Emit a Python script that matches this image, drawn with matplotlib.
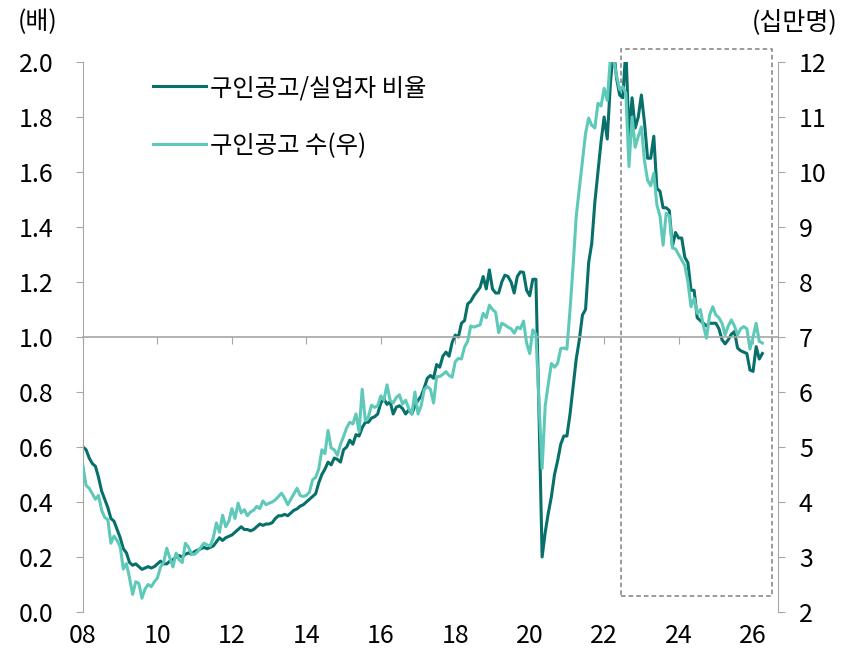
import numpy as np
import matplotlib
matplotlib.use("Agg")
import matplotlib.pyplot as plt
from matplotlib.patches import Rectangle

plt.rcParams['font.family'] = ['Noto Sans CJK KR', 'DejaVu Sans']

# monthly data, Jan 2008 onwards
ratio = [
    0.60, 0.59, 0.56, 0.54, 0.53, 0.49, 0.44, 0.41, 0.38, 0.34, 0.33, 0.30,  # 2008
    0.27, 0.23, 0.215, 0.18, 0.17, 0.175, 0.165, 0.155, 0.16, 0.165, 0.16, 0.165,  # 2009
    0.175, 0.185, 0.175, 0.175, 0.185, 0.19, 0.20, 0.205, 0.20, 0.21, 0.215, 0.21,  # 2010
    0.22, 0.225, 0.23, 0.235, 0.23, 0.235, 0.24, 0.255, 0.27, 0.26, 0.27, 0.275,  # 2011
    0.28, 0.29, 0.30, 0.31, 0.30, 0.30, 0.295, 0.30, 0.31, 0.32, 0.315, 0.32,  # 2012
    0.32, 0.325, 0.34, 0.35, 0.35, 0.355, 0.35, 0.36, 0.37, 0.375, 0.385, 0.39,  # 2013
    0.40, 0.41, 0.42, 0.43, 0.47, 0.50, 0.52, 0.545, 0.535, 0.56, 0.555, 0.545,  # 2014
    0.59, 0.60, 0.625, 0.61, 0.645, 0.64, 0.67, 0.69, 0.69, 0.705, 0.71, 0.72,  # 2015
    0.76, 0.775, 0.755, 0.765, 0.72, 0.745, 0.75, 0.74, 0.72, 0.735, 0.72, 0.75,  # 2016
    0.77, 0.785, 0.815, 0.85, 0.86, 0.85, 0.90, 0.89, 0.93, 0.945, 0.93, 0.98,  # 2017
    1.007, 1.0, 1.05, 1.06, 1.12, 1.13, 1.15, 1.165, 1.18, 1.22, 1.175, 1.244,  # 2018
    1.175, 1.16, 1.16, 1.20, 1.225, 1.22, 1.20, 1.16, 1.22, 1.237, 1.235, 1.17,  # 2019
    1.15, 1.21, 1.21, 0.72, 0.20, 0.29, 0.36, 0.42, 0.50, 0.55, 0.61, 0.64,  # 2020
    0.64, 0.72, 0.82, 0.92, 0.99, 1.08, 1.10, 1.27, 1.34, 1.49, 1.60, 1.71,  # 2021
    1.80, 1.72, 1.92, 2.05, 1.94, 1.88, 1.87, 2.05, 1.73, 1.87, 1.76, 1.80,  # 2022
    1.88, 1.78, 1.65, 1.65, 1.73, 1.54, 1.53, 1.47, 1.47, 1.46, 1.33, 1.38,  # 2023
    1.36, 1.36, 1.29, 1.27, 1.17, 1.17, 1.07, 1.06, 1.05, 1.04, 1.05, 1.05,  # 2024
    1.05, 1.03, 0.99, 0.975, 0.99, 1.01, 1.02, 0.96, 0.95, 0.945, 0.94, 0.88,  # 2025
    0.875, 0.965, 0.92, 0.94,  # 2026
]

openings = [
    4.65, 4.30, 4.25, 4.15, 4.05, 4.12, 3.85, 3.72, 3.68, 3.25, 3.38, 3.30,
    3.18, 2.78, 2.88, 2.62, 2.32, 2.55, 2.52, 2.25, 2.42, 2.50, 2.46, 2.55,
    2.62, 2.82, 2.90, 3.16, 2.98, 2.82, 3.07, 2.95, 2.90, 3.25, 3.18, 3.05,
    3.05, 3.10, 3.18, 3.25, 3.22, 3.20, 3.35, 3.62, 3.45, 3.76, 3.55, 3.65,
    3.88, 3.70, 3.98, 3.80, 3.86, 3.75, 3.82, 3.85, 3.92, 3.88, 4.02, 3.95,
    3.98, 4.00, 4.04, 4.10, 4.16, 4.07, 3.95, 4.05, 4.15, 4.25, 4.12, 4.10,
    4.12, 4.18, 4.40, 4.45, 4.60, 4.95, 4.88, 5.30, 4.98, 4.95, 4.85, 5.05,
    5.19, 5.35, 5.45, 5.42, 5.60, 5.28, 6.05, 5.48, 5.55, 5.76, 5.72, 5.75,
    5.93, 5.85, 6.13, 5.85, 5.80, 5.90, 5.95, 5.78, 5.85, 5.70, 5.60, 6.00,
    5.60, 5.75, 6.04, 6.10, 6.05, 5.80, 6.28, 6.28, 6.32, 6.37, 6.30, 6.27,
    6.55, 6.61, 6.60, 6.82, 6.92, 7.20, 7.18, 7.20, 7.22, 7.43, 7.35, 7.58,
    7.50, 7.45, 7.08, 7.25, 7.22, 7.18, 7.15, 7.07, 7.18, 7.15, 7.29, 6.89,
    6.70, 7.13, 7.05, 5.80, 4.61, 5.75, 6.15, 6.52, 6.45, 6.52, 6.79, 6.80,
    6.78, 7.50, 8.30, 9.20, 9.70, 10.20, 10.70, 10.98, 10.85, 10.80, 11.25, 11.20,
    11.52, 11.30, 12.05, 12.05, 11.75, 11.50, 11.55, 11.43, 10.10, 11.00, 10.45, 10.65,
    10.82, 10.20, 9.85, 9.75, 9.98, 9.40, 9.20, 8.67, 9.25, 9.20, 8.62, 8.60,
    8.50, 8.40, 8.30, 8.00, 7.55, 7.70, 7.43, 7.50, 7.20, 6.98, 7.40, 7.55,
    7.40, 7.35, 7.25, 7.04, 7.20, 7.31, 7.20, 7.04, 7.15, 7.19, 7.15, 6.78,
    7.00, 7.25, 6.92, 6.89,
]

year_ticks = list(range(2008, 2027, 2))
year_labels = ['08', '10', '12', '14', '16', '18', '20', '22', '24', '26']
ratio_label = '구인공고/실업자 비율'
openings_label = '구인공고 수(우)'

dark = '#07706a'
light = '#5fc9b9'
grey = '#a6a6a6'

months = 2008 + np.arange(len(ratio)) / 12

fig = plt.figure(figsize=(8.56, 6.52), dpi=100)
ax = fig.add_axes([83 / 856, 40 / 652, 695 / 856, 550 / 652])
ax2 = ax.twinx()

ax.plot(months, ratio, color=dark, lw=2.2, label=ratio_label)
ax2.plot(months, openings, color=light, lw=2.2, label=openings_label)

ax.set_xlim(2008, 2026.67)
ax.set_ylim(0, 2.0)
ax2.set_ylim(2, 12)

ax.set_yticks(np.arange(0, 2.01, 0.2))
ax.set_yticklabels([f'{v:.1f}' for v in np.arange(0, 2.01, 0.2)])
ax2.set_yticks(range(2, 13))

for s in ['top', 'right']:
    ax.spines[s].set_visible(False)
for s in ['top', 'bottom', 'left']:
    ax2.spines[s].set_visible(False)
ax.spines['left'].set_color(grey)
ax2.spines['right'].set_color(grey)
ax.spines['bottom'].set_position(('data', 1.0))
ax.spines['bottom'].set_color(grey)
ax.spines['bottom'].set_linewidth(1.2)

ax.set_xticks(year_ticks)
ax.tick_params(axis='x', direction='out', length=5, color=grey, labelbottom=False)
ax.tick_params(axis='y', direction='out', length=5, color=grey, labelsize=18, pad=16)
ax2.tick_params(axis='y', direction='out', length=5, color=grey, labelsize=18, pad=10)

sec = ax.secondary_xaxis(0)
sec.set_xticks(year_ticks)
sec.set_xticklabels(year_labels)
sec.tick_params(length=0, labelsize=18, pad=8)
sec.spines['bottom'].set_visible(False)

box = Rectangle((2022.44, 0.058), 4.08, 1.99, fill=False, ls=(0, (3, 2)),
                ec='#808080', lw=1.1, clip_on=False)
ax.add_patch(box)

fig.text(38 / 856, 1 - 22 / 652, '(배)', fontsize=18, ha='center', va='center')
fig.text(838 / 856, 1 - 22 / 652, '(십만명)', fontsize=18, ha='right', va='center')

h1, l1 = ax.get_legend_handles_labels()
h2, l2 = ax2.get_legend_handles_labels()
ax2.legend(h1 + h2, l1 + l2, loc='upper left', bbox_to_anchor=(153 / 856, 1 - 75 / 652),
           bbox_transform=fig.transFigure, frameon=False, fontsize=17.5,
           handlelength=2.2, handletextpad=0.15, labelspacing=1.3, borderpad=0, borderaxespad=0)

fig.savefig('out.png', dpi=100)
